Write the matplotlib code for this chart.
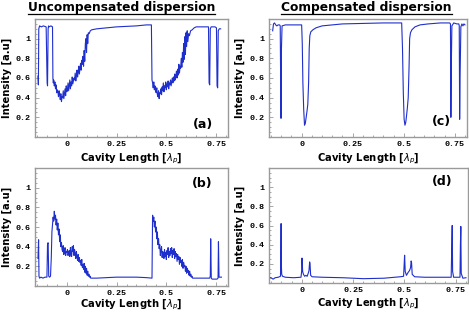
import numpy as np
import matplotlib
matplotlib.use('Agg')
import matplotlib.pyplot as plt
from matplotlib.ticker import MultipleLocator
from matplotlib.lines import Line2D

# ---- data (x in cavity lengths, y intensity a.u.) ----
a_x = [
    -0.145, -0.143, -0.141, -0.137, -0.128, -0.118, -0.104, -0.099, -0.097, -0.094,
    -0.092, -0.089, -0.080, -0.072, -0.070, -0.068, -0.066, -0.063, -0.060, -0.057,
    -0.054, -0.051, -0.048, -0.045, -0.042, -0.039, -0.036, -0.033, -0.030, -0.027,
    -0.024, -0.021, -0.018, -0.015, -0.012, -0.009, -0.006, -0.003, 0.000, 0.003,
    0.006, 0.009, 0.012, 0.015, 0.018, 0.021, 0.024, 0.027, 0.030, 0.033,
    0.036, 0.039, 0.042, 0.045, 0.048, 0.051, 0.054, 0.057, 0.060, 0.063,
    0.066, 0.069, 0.072, 0.075, 0.078, 0.081, 0.084, 0.087, 0.090, 0.093,
    0.096, 0.099, 0.102, 0.105, 0.108, 0.112, 0.118, 0.125, 0.150, 0.200,
    0.250, 0.300, 0.350, 0.400, 0.425, 0.428, 0.431, 0.434, 0.437, 0.440,
    0.443, 0.446, 0.449, 0.452, 0.455, 0.458, 0.461, 0.464, 0.467, 0.470,
    0.473, 0.476, 0.479, 0.482, 0.485, 0.488, 0.491, 0.494, 0.497, 0.500,
    0.503, 0.506, 0.509, 0.512, 0.515, 0.518, 0.521, 0.524, 0.527, 0.530,
    0.533, 0.536, 0.539, 0.542, 0.545, 0.548, 0.551, 0.554, 0.557, 0.560,
    0.563, 0.566, 0.569, 0.572, 0.575, 0.578, 0.581, 0.584, 0.587, 0.590,
    0.593, 0.596, 0.599, 0.602, 0.605, 0.608, 0.612, 0.616, 0.622, 0.630,
    0.640, 0.650, 0.700, 0.712, 0.715, 0.718, 0.721, 0.725, 0.745, 0.752,
    0.755, 0.758, 0.761, 0.766, 0.773]
a_y = [
    0.62, 0.53, 1.10, 1.13, 1.12, 1.13, 1.12, 0.55, 0.52, 1.10,
    1.13, 1.12, 1.13, 1.12, 0.60, 0.55, 0.58, 0.52, 0.56, 0.49,
    0.53, 0.45, 0.48, 0.46, 0.41, 0.47, 0.43, 0.38, 0.44, 0.36,
    0.41, 0.40, 0.47, 0.39, 0.44, 0.49, 0.42, 0.52, 0.46, 0.48,
    0.55, 0.47, 0.53, 0.58, 0.49, 0.56, 0.52, 0.61, 0.54, 0.57,
    0.60, 0.58, 0.65, 0.57, 0.62, 0.68, 0.61, 0.66, 0.72, 0.64,
    0.70, 0.75, 0.68, 0.78, 0.74, 0.82, 0.72, 0.88, 0.77, 0.95,
    1.00, 0.86, 1.04, 0.95, 1.06, 1.05, 1.08, 1.09, 1.10, 1.11,
    1.12, 1.125, 1.13, 1.14, 1.14, 0.58, 0.55, 0.50, 0.56, 0.48,
    0.52, 0.47, 0.45, 0.50, 0.43, 0.41, 0.47, 0.39, 0.45, 0.44,
    0.49, 0.43, 0.51, 0.47, 0.55, 0.46, 0.52, 0.50, 0.56, 0.48,
    0.54, 0.51, 0.57, 0.49, 0.55, 0.53, 0.58, 0.52, 0.56, 0.60,
    0.55, 0.61, 0.57, 0.64, 0.58, 0.62, 0.67, 0.60, 0.69, 0.63,
    0.74, 0.65, 0.72, 0.70, 0.80, 0.71, 0.86, 0.76, 0.95, 0.79,
    1.02, 0.84, 1.06, 0.92, 1.08, 0.97, 1.05, 1.03, 1.08, 1.09,
    1.11, 1.12, 1.12, 1.12, 0.55, 0.53, 1.10, 1.12, 1.12, 1.11,
    0.52, 0.50, 1.08, 1.10, 1.10]

b_x = [
    -0.145, -0.142, -0.140, -0.137, -0.130, -0.120, -0.110, -0.100, -0.097, -0.094,
    -0.091, -0.087, -0.082, -0.078, -0.075, -0.072, -0.069, -0.066, -0.063, -0.060,
    -0.057, -0.054, -0.051, -0.048, -0.045, -0.042, -0.039, -0.036, -0.033, -0.030,
    -0.027, -0.024, -0.021, -0.018, -0.015, -0.012, -0.009, -0.006, -0.003, 0.000,
    0.003, 0.006, 0.009, 0.012, 0.015, 0.018, 0.021, 0.024, 0.027, 0.030,
    0.033, 0.036, 0.039, 0.042, 0.045, 0.048, 0.051, 0.054, 0.057, 0.060,
    0.063, 0.066, 0.069, 0.072, 0.075, 0.078, 0.081, 0.084, 0.087, 0.090,
    0.093, 0.096, 0.099, 0.102, 0.105, 0.108, 0.111, 0.114, 0.117, 0.120,
    0.125, 0.130, 0.150, 0.200, 0.250, 0.300, 0.350, 0.400, 0.428, 0.431,
    0.434, 0.437, 0.440, 0.443, 0.446, 0.449, 0.452, 0.455, 0.458, 0.461,
    0.464, 0.467, 0.470, 0.473, 0.476, 0.479, 0.482, 0.485, 0.488, 0.491,
    0.494, 0.497, 0.500, 0.503, 0.506, 0.509, 0.512, 0.515, 0.518, 0.521,
    0.524, 0.527, 0.530, 0.533, 0.536, 0.539, 0.542, 0.545, 0.548, 0.551,
    0.554, 0.557, 0.560, 0.563, 0.566, 0.569, 0.572, 0.575, 0.578, 0.581,
    0.584, 0.587, 0.590, 0.593, 0.596, 0.599, 0.602, 0.605, 0.608, 0.611,
    0.614, 0.617, 0.620, 0.623, 0.626, 0.629, 0.632, 0.636, 0.650, 0.700,
    0.718, 0.721, 0.723, 0.726, 0.730, 0.740, 0.755, 0.760, 0.762, 0.765,
    0.770, 0.777]
b_y = [
    0.28, 0.47, 0.10, 0.08, 0.09, 0.08, 0.09, 0.09, 0.43, 0.44,
    0.10, 0.09, 0.10, 0.30, 0.55, 0.62, 0.70, 0.66, 0.76, 0.68,
    0.72, 0.62, 0.68, 0.57, 0.64, 0.52, 0.58, 0.45, 0.52, 0.40,
    0.44, 0.37, 0.35, 0.41, 0.32, 0.36, 0.39, 0.31, 0.35, 0.34,
    0.37, 0.31, 0.34, 0.36, 0.30, 0.39, 0.33, 0.30, 0.40, 0.35,
    0.41, 0.31, 0.37, 0.33, 0.28, 0.35, 0.30, 0.26, 0.32, 0.25,
    0.29, 0.24, 0.26, 0.21, 0.27, 0.19, 0.22, 0.17, 0.23, 0.14,
    0.20, 0.13, 0.18, 0.11, 0.15, 0.10, 0.12, 0.09, 0.10, 0.08,
    0.08, 0.08, 0.08, 0.085, 0.09, 0.09, 0.09, 0.085, 0.08, 0.72,
    0.66, 0.70, 0.60, 0.66, 0.55, 0.60, 0.48, 0.55, 0.42, 0.48,
    0.38, 0.42, 0.31, 0.36, 0.40, 0.29, 0.35, 0.33, 0.28, 0.37,
    0.30, 0.34, 0.27, 0.36, 0.32, 0.39, 0.29, 0.35, 0.31, 0.38,
    0.33, 0.39, 0.29, 0.36, 0.32, 0.38, 0.28, 0.35, 0.30, 0.33,
    0.25, 0.32, 0.27, 0.30, 0.22, 0.29, 0.24, 0.26, 0.20, 0.27,
    0.18, 0.24, 0.20, 0.21, 0.15, 0.20, 0.13, 0.18, 0.14, 0.16,
    0.11, 0.15, 0.10, 0.12, 0.09, 0.10, 0.08, 0.08, 0.08, 0.08,
    0.08, 0.10, 0.48, 0.08, 0.07, 0.07, 0.07, 0.08, 0.45, 0.09,
    0.09, 0.09]

c_x = [
    -0.142, -0.138, -0.133, -0.127, -0.122, -0.115, -0.108, -0.105, -0.103, -0.101,
    -0.099, -0.096, -0.080, -0.050, -0.020, 0.000, 0.003, 0.006, 0.010, 0.014,
    0.018, 0.022, 0.026, 0.030, 0.034, 0.037, 0.040, 0.045, 0.055, 0.070,
    0.100, 0.150, 0.200, 0.300, 0.400, 0.490, 0.494, 0.498, 0.502, 0.506,
    0.510, 0.514, 0.518, 0.522, 0.526, 0.529, 0.533, 0.540, 0.555, 0.580,
    0.620, 0.680, 0.725, 0.729, 0.731, 0.733, 0.736, 0.745, 0.760, 0.770,
    0.772, 0.774, 0.776, 0.780, 0.785, 0.790, 0.795, 0.800]
c_y = [
    1.08, 1.15, 1.16, 1.14, 1.13, 1.14, 1.14, 1.13, 0.60, 0.19,
    0.90, 1.13, 1.14, 1.14, 1.14, 1.14, 0.95, 0.55, 0.28, 0.12,
    0.14, 0.20, 0.26, 0.33, 0.55, 0.90, 1.03, 1.07, 1.09, 1.11,
    1.13, 1.14, 1.15, 1.155, 1.16, 1.16, 0.90, 0.45, 0.18, 0.12,
    0.15, 0.22, 0.30, 0.40, 0.70, 1.00, 1.06, 1.09, 1.12, 1.14,
    1.15, 1.16, 1.16, 1.15, 0.20, 0.70, 1.13, 1.16, 1.15, 1.15,
    1.13, 0.18, 0.60, 1.12, 1.15, 1.13, 1.15, 1.14]

d_x = [
    -0.160, -0.150, -0.140, -0.130, -0.115, -0.104, -0.102, -0.101, -0.100, -0.098,
    -0.094, -0.080, -0.040, -0.004, -0.001, 0.001, 0.004, 0.008, 0.014, 0.020,
    0.026, 0.031, 0.035, 0.038, 0.040, 0.043, 0.050, 0.100, 0.200, 0.300,
    0.400, 0.480, 0.496, 0.499, 0.501, 0.504, 0.510, 0.518, 0.525, 0.530,
    0.533, 0.535, 0.538, 0.550, 0.600, 0.700, 0.728, 0.731, 0.733, 0.735,
    0.740, 0.760, 0.771, 0.773, 0.775, 0.777, 0.785, 0.800]
d_y = [
    0.06, 0.055, 0.04, 0.055, 0.06, 0.07, 0.35, 0.62, 0.20, 0.09,
    0.07, 0.06, 0.055, 0.06, 0.12, 0.26, 0.12, 0.09, 0.07, 0.08,
    0.07, 0.10, 0.13, 0.22, 0.20, 0.08, 0.065, 0.06, 0.055, 0.045,
    0.05, 0.065, 0.07, 0.20, 0.29, 0.12, 0.08, 0.11, 0.13, 0.16,
    0.23, 0.21, 0.09, 0.065, 0.06, 0.06, 0.06, 0.40, 0.60, 0.12,
    0.06, 0.06, 0.06, 0.40, 0.59, 0.10, 0.05, 0.055]

x_ticks = [0, 0.25, 0.5, 0.75]
x_ticklabels = ['0', '0.25', '0.5', '0.75']
y_ticks = [0.2, 0.4, 0.6, 0.8, 1.0]
y_ticklabels = ['0.2', '0.4', '0.6', '0.8', '1']
titles = ['Uncompensated dispersion', 'Compensated dispersion']

W, H = 469, 312
LINE = '#1f2fcc'

fig = plt.figure(figsize=(W / 100, H / 100), dpi=100)


def add_ax(l, t, r, b):
    return fig.add_axes([l / W, 1 - b / H, (r - l) / W, (b - t) / H])


panels = [
    # box in pixels, data, label, label pos, xlabel offset
    ((35, 19, 228, 137), a_x, a_y, '(a)', (0.87, 0.11), -0.125),
    ((35, 168, 228, 286), b_x, b_y, '(b)', (0.865, 0.865), -0.095),
    ((269, 19, 467, 137), c_x, c_y, '(c)', (0.87, 0.135), -0.125),
    ((269, 168, 468, 283), d_x, d_y, '(d)', (0.87, 0.885), -0.115),
]

for box, xs, ys, lab, lpos, xl_off in panels:
    ax = add_ax(*box)
    ax.plot(xs, ys, color=LINE, lw=0.8)
    ax.set_xlim(-0.16, 0.81)
    ax.set_ylim(0, 1.2)
    ax.set_xticks(x_ticks)
    ax.set_xticklabels(x_ticklabels)
    ax.set_yticks(y_ticks)
    ax.set_yticklabels(y_ticklabels)
    ax.xaxis.set_minor_locator(MultipleLocator(0.05))
    ax.yaxis.set_minor_locator(MultipleLocator(0.05))
    ax.tick_params(which='both', direction='in', color='#999999', width=0.6)
    ax.tick_params(which='major', length=3, pad=3)
    ax.tick_params(which='minor', length=1.5)
    for t in ax.get_xticklabels() + ax.get_yticklabels():
        t.set_fontfamily('Liberation Mono')
        t.set_fontweight('bold')
        t.set_fontsize(6)
    for s in ax.spines.values():
        s.set_color('#9a9a9a')
        s.set_linewidth(1.0)
    ax.set_xlabel(r'Cavity Length [$\lambda_p$]', fontsize=7.2, fontweight='bold')
    ax.set_ylabel('Intensity [a.u]', fontsize=7.2, fontweight='bold', va='center')
    ax.xaxis.set_label_coords(0.5, xl_off)
    ax.xaxis.label.set_va('top')
    ax.yaxis.set_label_coords(-0.148, 0.5)
    ax.text(lpos[0], lpos[1], lab, transform=ax.transAxes, ha='center',
            va='center', fontsize=9, fontweight='bold')

# column titles, underlined
title_x = [121.5 / W, 366.5 / W]
for tx, title in zip(title_x, titles):
    t = fig.text(tx, 1 - 7.5 / H, title, ha='center', va='center',
                 fontsize=8.8, fontweight='bold')
    fig.canvas.draw()
    bb = t.get_window_extent().transformed(fig.transFigure.inverted())
    fig.add_artist(Line2D([bb.x0, bb.x1], [1 - 13.8 / H] * 2,
                          transform=fig.transFigure, color='black', lw=0.9))

fig.savefig('out.png', dpi=100)
